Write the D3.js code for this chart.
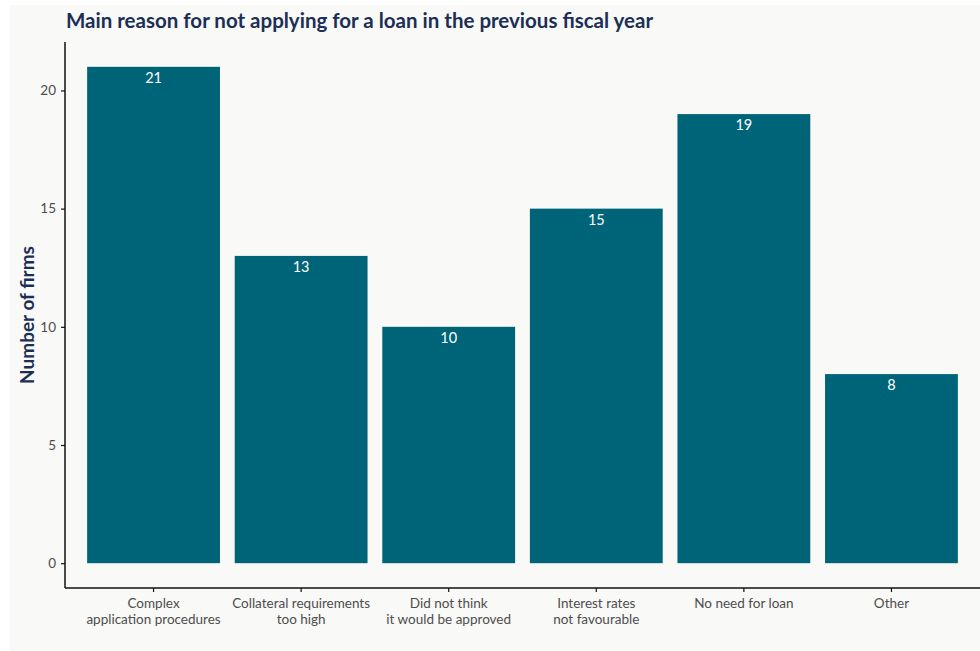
<!DOCTYPE html>
<html>
<head>
<meta charset="utf-8">
<script src="https://cdn.jsdelivr.net/npm/d3@7"></script>
<style>
  html, body { margin: 0; padding: 0; background: #ffffff; }
  svg { display: block; font-family: Lato, "Open Sans", sans-serif; }
</style>
</head>
<body>
<svg id="chart" width="980" height="651"></svg>
<script>
// Survey responses: main reason for not applying for a loan
const categories = [
  "Complex\napplication procedures",
  "Collateral requirements\ntoo high",
  "Did not think\nit would be approved",
  "Interest rates\nnot favourable",
  "No need for loan",
  "Other"
];
const firmCounts = [21, 13, 10, 15, 19, 8];
const yTicks = [0, 5, 10, 15, 20];
const titleText = "Main reason for not applying for a loan in the previous fiscal year";
const yLabelText = "Number of firms";

const W = 980, H = 651;
const plot = { left: 65, right: 980, top: 42, bottom: 588 };
const navy = "#1b2f56";
const barColor = "#006479";
const tickColor = "#4d4d4d";

const svg = d3.select("#chart");

// Panel background
svg.append("rect")
  .attr("x", 10).attr("y", 5)
  .attr("width", W - 10).attr("height", H - 5)
  .attr("fill", "#f9f9f7");

// Scales
const x = d3.scaleBand()
  .domain(categories)
  .range([plot.left, plot.right])
  .paddingInner(0.1)
  .paddingOuter(0.15);

const yMax = d3.max(firmCounts);
const pad = yMax * 0.05;
const y = d3.scaleLinear()
  .domain([-pad, yMax + pad])
  .range([plot.bottom, plot.top]);

// Bars
const data = categories.map((c, i) => ({ c, v: firmCounts[i] }));
svg.append("g").selectAll("rect")
  .data(data)
  .join("rect")
  .attr("x", d => x(d.c))
  .attr("y", d => y(d.v))
  .attr("width", x.bandwidth())
  .attr("height", d => y(0) - y(d.v))
  .attr("fill", barColor);

// Value labels inside bar tops
svg.append("g").selectAll("text")
  .data(data)
  .join("text")
  .attr("x", d => x(d.c) + x.bandwidth() / 2)
  .attr("y", d => y(d.v) + 16)
  .attr("text-anchor", "middle")
  .attr("fill", "#ffffff")
  .attr("font-size", 14.5)
  .text(d => d.v);

// Y axis
const yAxis = svg.append("g")
  .attr("transform", `translate(${plot.left},0)`)
  .call(d3.axisLeft(y).tickValues(yTicks).tickSize(4).tickPadding(5));
yAxis.select(".domain").attr("d", `M0,${plot.bottom}V${plot.top}`).attr("stroke", "#111").attr("stroke-width", 1.5);
yAxis.selectAll(".tick line").attr("stroke", "#111").attr("stroke-width", 1.2);
yAxis.selectAll(".tick text").attr("fill", tickColor).attr("font-size", 13.5).attr("font-family", "Lato, sans-serif");

// X axis
const xAxis = svg.append("g")
  .attr("transform", `translate(0,${plot.bottom})`)
  .call(d3.axisBottom(x).tickSize(4).tickPadding(4).tickFormat(""));
xAxis.select(".domain").attr("d", `M${plot.left},0H${plot.right}`).attr("stroke", "#111").attr("stroke-width", 1.5);
xAxis.selectAll(".tick line").attr("stroke", "#111").attr("stroke-width", 1.2);
xAxis.selectAll(".tick text").remove();
xAxis.selectAll(".tick").append("text")
  .attr("text-anchor", "middle")
  .attr("fill", tickColor)
  .attr("font-size", 13.5)
  .attr("font-family", "Lato, sans-serif")
  .selectAll("tspan")
  .data(d => d.split("\n"))
  .join("tspan")
  .attr("x", 0)
  .attr("y", (d, i) => 20 + i * 15.5)
  .text(d => d);

// Y axis title
svg.append("text")
  .attr("transform", `translate(34,${(plot.top + plot.bottom) / 2}) rotate(-90)`)
  .attr("text-anchor", "middle")
  .attr("fill", navy)
  .attr("font-size", 19)
  .attr("font-weight", "bold")
  .text(yLabelText);

// Chart title
svg.append("text")
  .attr("x", 66).attr("y", 28)
  .attr("fill", navy)
  .attr("font-size", 20.5)
  .attr("font-weight", "bold")
  .text(titleText);
</script>
</body>
</html>
